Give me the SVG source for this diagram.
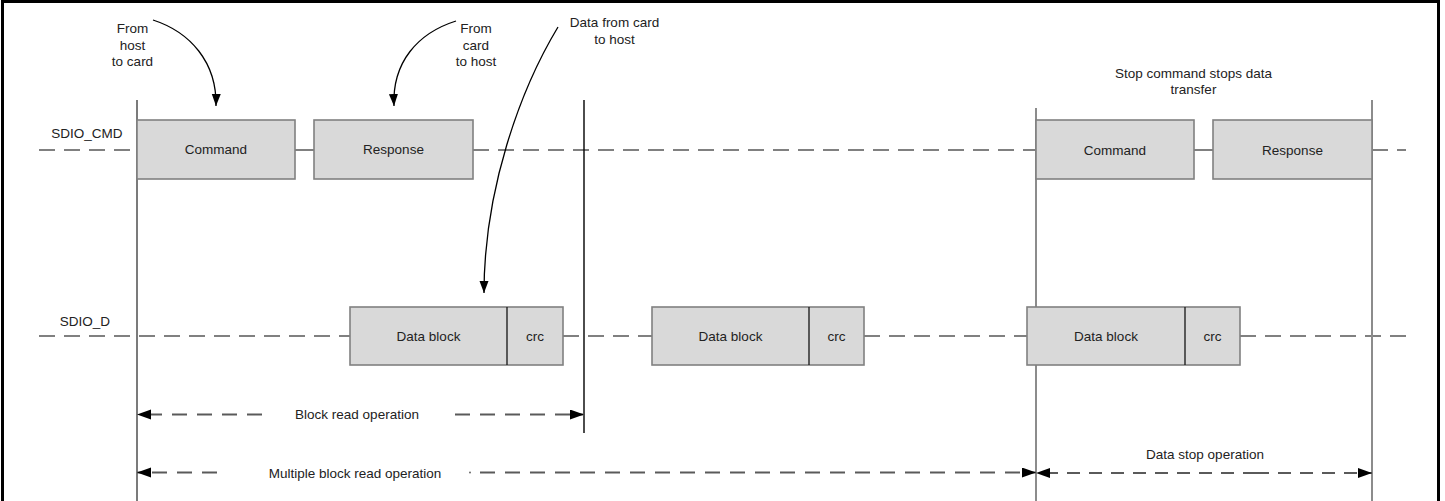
<svg xmlns="http://www.w3.org/2000/svg" width="1445" height="501" viewBox="0 0 1445 501">
  <style>
    .frame { fill: none; stroke: #000; stroke-width: 3; }
    .sig { stroke: #808080; stroke-width: 2; stroke-dasharray: 16 9; fill: none; }
    .sig-solid { stroke: #808080; stroke-width: 2; fill: none; }
    .mark { stroke: #8c8c8c; stroke-width: 2; fill: none; }
    .mark-dark { stroke: #5a5a5a; stroke-width: 1.6; fill: none; }
    .mark-black { stroke: #000; stroke-width: 1.4; fill: none; }
    .span { stroke: #5a5a5a; stroke-width: 2; stroke-dasharray: 15 10; fill: none; }
    .span-tight { stroke: #5a5a5a; stroke-width: 2; stroke-dasharray: 13 9; fill: none; }
    .box { fill: #d9d9d9; stroke: #808080; stroke-width: 1.6; }
    .divider { stroke: #222; stroke-width: 1.4; }
    .callout { stroke: #000; stroke-width: 1.3; fill: none; }
    text { font-family: "Liberation Sans", Arial, sans-serif; font-size: 13.5px; fill: #222; text-anchor: middle; }
  </style>
  <defs>
    <marker id="head" markerUnits="userSpaceOnUse" markerWidth="15" markerHeight="11" refX="14" refY="5" orient="auto">
      <path d="M0,0 L14,5 L0,10 z" fill="#000"/>
    </marker>
    <marker id="head-small" markerUnits="userSpaceOnUse" markerWidth="13" markerHeight="10" refX="12" refY="4.5" orient="auto">
      <path d="M0,0 L12,4.5 L0,9 z" fill="#000"/>
    </marker>
  </defs>

  <!-- outer frame -->
  <rect class="frame" x="2.5" y="1.5" width="1436" height="530"/>

  <!-- signal lines -->
  <g id="lines">
    <line class="sig" x1="39" y1="150" x2="137" y2="150"/>
    <line class="sig-solid" x1="295" y1="150" x2="314" y2="150"/>
    <line class="sig" x1="473" y1="150" x2="1036" y2="150"/>
    <line class="sig-solid" x1="1194" y1="150" x2="1213" y2="150"/>
    <line class="sig" x1="1372" y1="150" x2="1406" y2="150"/>

    <line class="sig" x1="39" y1="336" x2="350" y2="336"/>
    <line class="sig" x1="563" y1="336" x2="652" y2="336"/>
    <line class="sig" x1="864" y1="336" x2="1027" y2="336"/>
    <line class="sig" x1="1240" y1="336" x2="1406" y2="336"/>
  </g>

  <!-- time markers -->
  <g id="markers">
    <line class="mark-dark" x1="137" y1="100" x2="137" y2="501"/>
    <line class="mark-black" x1="584" y1="100" x2="584" y2="433"/>
    <line class="mark" x1="1036" y1="108" x2="1036" y2="501"/>
    <line class="mark" x1="1372" y1="100" x2="1372" y2="501"/>
  </g>

  <!-- SDIO_CMD phases -->
  <g id="cmd-command">
    <rect class="box" x="137" y="120" width="158" height="59"/>
    <text x="216" y="154">Command</text>
  </g>
  <g id="cmd-response">
    <rect class="box" x="314" y="120" width="159" height="59"/>
    <text x="393.5" y="154">Response</text>
  </g>
  <g id="stop-command">
    <rect class="box" x="1036" y="120" width="158" height="59"/>
    <text x="1115" y="155">Command</text>
  </g>
  <g id="stop-response">
    <rect class="box" x="1213" y="120" width="159" height="59"/>
    <text x="1292.5" y="155">Response</text>
  </g>

  <!-- SDIO_D blocks -->
  <g id="data-block-1">
    <rect class="box" x="350" y="307" width="213" height="58"/>
    <line class="divider" x1="507" y1="307" x2="507" y2="365"/>
    <text x="428.5" y="341">Data block</text>
    <text x="535" y="341">crc</text>
  </g>
  <g id="data-block-2">
    <rect class="box" x="652" y="307" width="212" height="58"/>
    <line class="divider" x1="809" y1="307" x2="809" y2="365"/>
    <text x="730.5" y="341">Data block</text>
    <text x="836.5" y="341">crc</text>
  </g>
  <g id="data-block-3">
    <rect class="box" x="1027" y="307" width="213" height="58"/>
    <line class="divider" x1="1185" y1="307" x2="1185" y2="365"/>
    <text x="1106" y="341">Data block</text>
    <text x="1212.5" y="341">crc</text>
  </g>

  <!-- signal labels -->
  <g id="label-cmd"><text x="87" y="138">SDIO_CMD</text></g>
  <g id="label-d"><text x="85" y="326">SDIO_D</text></g>

  <!-- callouts -->
  <g id="note-host-to-card">
    <text x="132.5" y="33">From</text>
    <text x="132.5" y="49.5">host</text>
    <text x="132.5" y="66">to card</text>
  </g>
  <g id="note-card-to-host">
    <text x="476" y="33">From</text>
    <text x="476" y="49.5">card</text>
    <text x="476" y="66">to host</text>
  </g>
  <g id="note-data">
    <text x="614.5" y="27">Data from card</text>
    <text x="614.5" y="43.5">to host</text>
  </g>
  <g id="note-stop">
    <text x="1193.5" y="78">Stop command stops data</text>
    <text x="1193.5" y="93.5">transfer</text>
  </g>

  <!-- operation spans -->
  <g id="span-block-read">
    <line class="span" x1="262" y1="414.5" x2="137" y2="414.5" marker-end="url(#head)"/>
    <line class="span" x1="455" y1="414.5" x2="584" y2="414.5" marker-end="url(#head)"/>
    <text x="357" y="419">Block read operation</text>
  </g>
  <g id="span-multi-read">
    <line class="span" x1="217" y1="472.5" x2="137" y2="472.5" marker-end="url(#head)"/>
    <circle cx="470" cy="472.5" r="0.9" fill="#5a5a5a"/>
    <line class="span" x1="480" y1="472.5" x2="1036" y2="472.5" marker-end="url(#head)"/>
    <text x="355" y="478">Multiple block read operation</text>
  </g>
  <g id="span-data-stop">
    <line class="span-tight" x1="1256" y1="473" x2="1036" y2="473" marker-end="url(#head)"/>
    <line class="span-tight" x1="1256" y1="473" x2="1372" y2="473" marker-end="url(#head)"/>
    <text x="1205" y="459">Data stop operation</text>
  </g>

  <!-- callout arrows -->
  <g id="connectors">
    <path class="callout" d="M153,20 C190,32 217,62 216,106" marker-end="url(#head-small)"/>
    <path class="callout" d="M456,21 C418,33 392,62 394,106" marker-end="url(#head-small)"/>
    <path class="callout" d="M558,27 C520,90 484,190 484,293" marker-end="url(#head-small)"/>
  </g>
</svg>
